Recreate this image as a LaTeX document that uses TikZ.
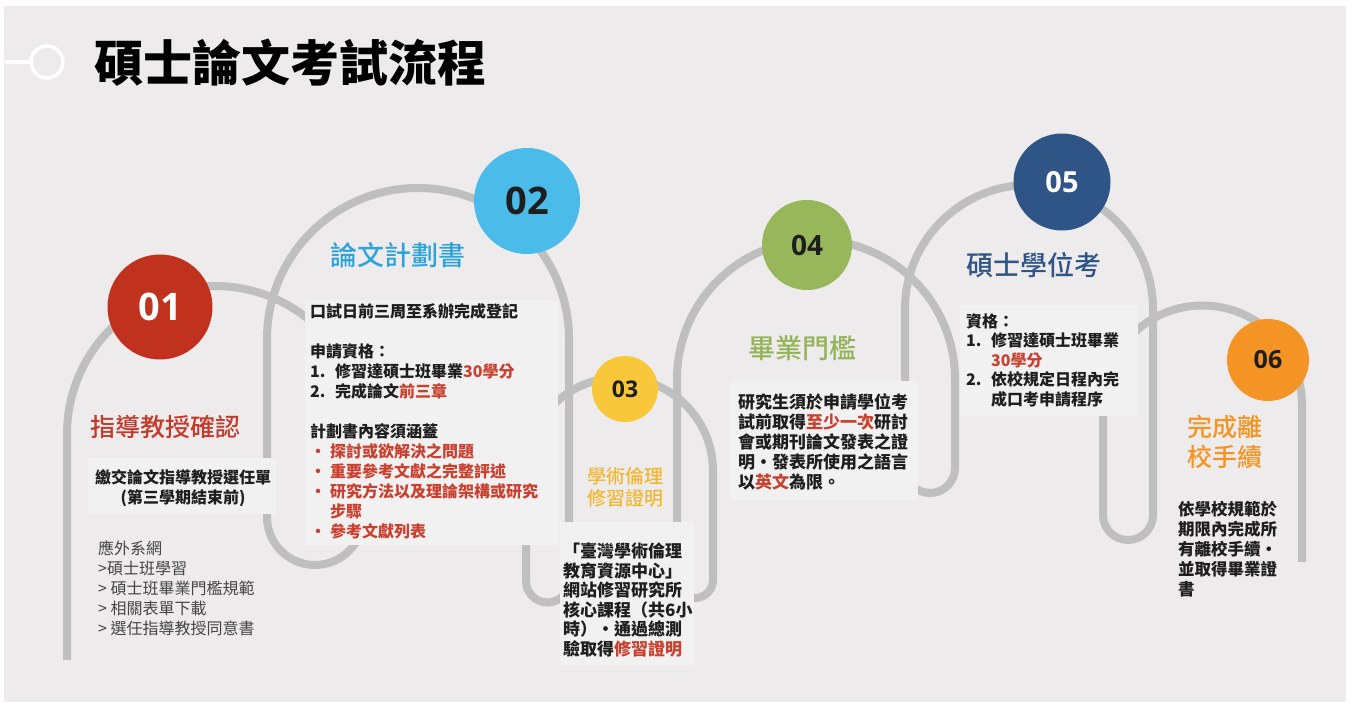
\documentclass[tikz,border=0pt]{standalone}
\usepackage{fontspec}
\newfontfamily\cjk{Noto Sans CJK TC}
\IfFontExistsTF{Noto Sans CJK TC Medium}
  {\newfontfamily\cjkm{Noto Sans CJK TC Medium}}
  {\newfontfamily\cjkm{Noto Sans CJK TC}[FakeBold=1.2]}
\newfontfamily\numfont{Open Sans}
\usetikzlibrary{positioning}

\definecolor{bgc}{HTML}{EDEBEB}
\definecolor{boxc}{HTML}{F2F1F1}
\definecolor{trackc}{HTML}{BFBFBF}
\definecolor{ink}{HTML}{1E1E1E}
\definecolor{linkc}{HTML}{454545}
\definecolor{hired}{HTML}{C9402F}
\definecolor{c01}{HTML}{C0321E}
\definecolor{c02}{HTML}{4BBCEA}
\definecolor{c03}{HTML}{F8C73A}
\definecolor{c04}{HTML}{98B75A}
\definecolor{c05}{HTML}{2F5586}
\definecolor{c06}{HTML}{F39424}
\definecolor{t01}{HTML}{C23A2B}
\definecolor{t02}{HTML}{2DA3DC}
\definecolor{t03}{HTML}{F2B631}
\definecolor{t04}{HTML}{94B35A}

\newcommand\hl[1]{\textcolor{hired}{#1}}
\newcommand\lab[1]{\makebox[25pt][l]{#1}}
\newcommand\bul{\makebox[20pt][l]{\textcolor{hired}{•}}}

\begin{document}
\begin{tikzpicture}[
    x=1pt, y=-1pt,
    track/.style = {draw=trackc, line width=8pt},
    hide/.style = {fill=boxc, draw=none},
    stepdot/.style = {circle, inner sep=0pt, text=ink},
    head/.style = {inner sep=0pt, align=center},
    body/.style = {inner sep=0pt, anchor=north west, align=left, text=ink,
                   font=\cjk\bfseries\fontsize{16}{20}\selectfont}
]
\useasboundingbox (0,0) rectangle (1352,704);
\fill[bgc] (4,6) rectangle (1346,702);

% title
\draw[white, line width=4pt] (5,62) -- (31,62);
\draw[white, line width=3.5pt] (47,62) circle[radius=16];
\node (title) [inner sep=0pt, anchor=west, font=\cjk\bfseries\fontsize{49}{52}\selectfont] at (94,63) {碩士論文考試流程};

% the winding track
\draw[track] (67,660) -- (67,434) arc[start angle=180, end angle=360, radius=148]
  -- (363,517) arc[start angle=0, end angle=180, radius=48]
  -- (267,339) arc[start angle=180, end angle=360, radius=151]
  -- (569,581) arc[start angle=0, end angle=180, radius=21.5]
  -- (526,471) arc[start angle=180, end angle=360, radius=93.5]
  -- (713,580) arc[start angle=0, end angle=180, radius=18]
  -- (677,379) arc[start angle=180, end angle=360, radius=139]
  -- (955,468) arc[start angle=0, end angle=180, radius=25]
  -- (905,309) arc[start angle=180, end angle=360, radius=124]
  -- (1153,515) arc[start angle=0, end angle=180, radius=25]
  -- (1103,405) arc[start angle=180, end angle=360, radius=99.5]
  -- (1302,562);

% text panels over the track
\fill[hide] (88,458) rectangle (276,514);
\fill[hide] (305,300) rectangle (558,545);
\fill[hide] (560,522) rectangle (694,665);
\fill[hide] (730,381) rectangle (918,500);
\fill[hide] (960,305) rectangle (1138,416);

% step circles
\node (s1) [stepdot, fill=c01, minimum size=105, text=white, font=\numfont\bfseries\fontsize{38}{40}\selectfont] at (160,307) {01};
\node (s2) [stepdot, fill=c02, minimum size=106, font=\numfont\bfseries\fontsize{38}{40}\selectfont] at (527,201) {02};
\node (s3) [stepdot, fill=c03, minimum size=66, font=\numfont\bfseries\fontsize{23}{25}\selectfont] at (625,389) {03};
\node (s4) [stepdot, fill=c04, minimum size=90, font=\numfont\bfseries\fontsize{28}{30}\selectfont] at (807,245) {04};
\node (s5) [stepdot, fill=c05, minimum size=97, text=white, font=\numfont\bfseries\fontsize{29}{31}\selectfont] at (1062,182) {05};
\node (s6) [stepdot, fill=c06, minimum size=82, font=\numfont\bfseries\fontsize{25}{27}\selectfont] at (1268,360) {06};

% step 01
\node (h1) [head, text=t01, font=\cjkm\fontsize{25}{28}\selectfont] at (165,427) {指導教授確認};
\node (d1) [body, anchor=north, align=center] at (183,469) {繳交論文指導教授選任單\\(第三學期結束前)};
\node (l1) [body, text=linkc, font=\cjk\fontsize{16}{20}\selectfont] at (98,541) {應外系網\\>碩士班學習\\> 碩士班畢業門檻規範\\> 相關表單下載\\> 選任指導教授同意書};

% step 02
\node (h2) [head, text=t02, font=\cjkm\fontsize{27}{30}\selectfont] at (398,255) {論文計劃書};
\node (d2) [body] at (310,303) {口試日前三周至系辦完成登記\\[20pt]
  申請資格：\\
  \lab{1.}修習達碩士班畢業\hl{30學分}\\
  \lab{2.}完成論文\hl{前三章}\\[20pt]
  計劃書內容須涵蓋\\
  \bul\hl{探討或欲解決之問題}\\
  \bul\hl{重要參考文獻之完整評述}\\
  \bul\hl{研究方法以及理論架構或研究}\\
  \hspace*{20pt}\hl{步驟}\\
  \bul\hl{參考文獻列表}};

% step 03
\node (h3) [head, text=t03, font=\cjkm\fontsize{19}{22}\selectfont] at (625,487) {學術倫理\\修習證明};
\node (d3) [body, font=\cjk\bfseries\fontsize{17}{19.5}\selectfont] at (563,543) {「臺灣學術倫理\\教育資源中心」\\網站修習研究所\\核心課程（共6小\\時）・通過總測\\驗取得\hl{修習證明}};

% step 04
\node (h4) [head, text=t04, font=\cjkm\fontsize{27}{30}\selectfont] at (802,348) {畢業門檻};
\node (d4) [body, font=\cjk\bfseries\fontsize{17}{20}\selectfont] at (738,393) {研究生須於申請學位考\\試前取得\hl{至少一次}研討\\會或期刊論文發表之證\\明・發表所使用之語言\\以\hl{英文}為限。};

% step 05
\node (h5) [head, text=c05, font=\cjkm\fontsize{27}{30}\selectfont] at (1034,265) {碩士學位考};
\node (d5) [body, font=\cjk\bfseries\fontsize{16}{19.5}\selectfont] at (966,313) {資格：\\
  \lab{1.}修習達碩士班畢業\\
  \lab{}\hl{30學分}\\
  \lab{2.}依校規定日程內完\\
  \lab{}成口考申請程序};

% step 06
\node (h6) [head, text=c06, font=\cjkm\fontsize{25}{30}\selectfont] at (1225,442) {完成離\\校手續};
\node (d6) [body, font=\cjk\bfseries\fontsize{16.5}{20}\selectfont] at (1178,501) {依學校規範於\\期限內完成所\\有離校手續・\\並取得畢業證\\書};
\end{tikzpicture}
\end{document}
